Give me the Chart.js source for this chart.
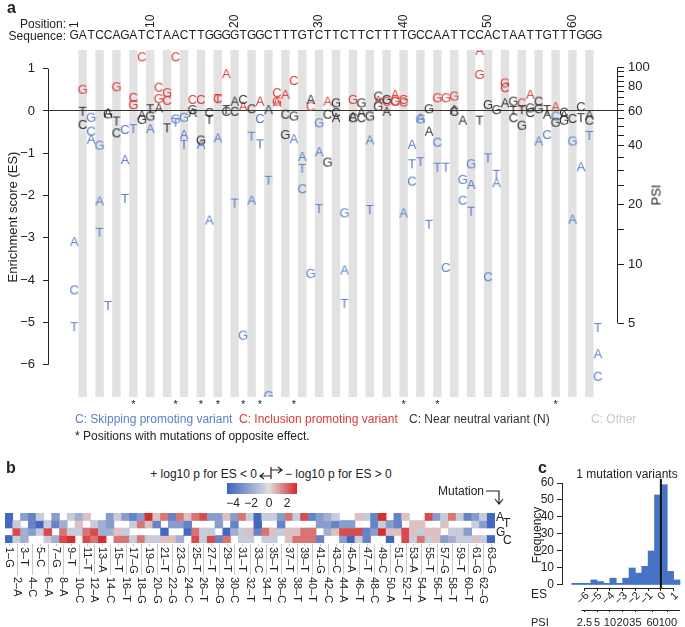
<!DOCTYPE html>
<html>
<head>
<meta charset="utf-8">
<script src="https://cdn.jsdelivr.net/npm/chart.js@4.4.1/dist/chart.umd.min.js"></script>
<style>
  body { margin: 0; width: 685px; height: 627px; position: relative; overflow: hidden; background: #fff;
         font-family: "Liberation Sans", Arial, sans-serif; color: #222; }
  canvas { position: absolute; }
  .t { position: absolute; white-space: nowrap; font-size: 12px; line-height: 1; }
  .panel { font-weight: bold; font-size: 16px; }
  .rot { transform: translate(-50%, -50%) rotate(-90deg); }
</style>
</head>
<body>
<canvas id="chartA" width="685" height="460" style="left:0;top:0;width:685px;height:460px"></canvas>
<canvas id="chartB" width="520" height="122" style="left:0;top:505px;width:520px;height:122px"></canvas>
<canvas id="chartC" width="185" height="157" style="left:500px;top:470px;width:185px;height:157px"></canvas>

<!-- panel a text -->
<div class="t panel" style="left:7px;top:0px">a</div>
<div class="t" style="right:619px;top:18px">Position:</div>
<div class="t" style="right:619px;top:30px">Sequence:</div>
<div class="t rot" style="left:12px;top:217px;font-size:13px">Enrichment score (ES)</div>
<div class="t rot" style="left:656px;top:195px;font-size:13px">PSI</div>
<div class="t" style="left:75px;top:413px;color:#5b7fc9">C: Skipping promoting variant</div>
<div class="t" style="left:239px;top:413px;color:#d93a3a">C: Inclusion promoting variant</div>
<div class="t" style="left:409px;top:413px;color:#333">C: Near neutral variant (N)</div>
<div class="t" style="left:591px;top:413px;color:#c8c8c8">C: Other</div>
<div class="t" style="left:75px;top:430px">* Positions with mutations of opposite effect.</div>

<!-- panel b text -->
<div class="t panel" style="left:6px;top:460px">b</div>
<div class="t" style="right:428px;top:468px">+ log10 p for ES &lt; 0</div>
<svg style="position:absolute;left:258px;top:466px" width="26" height="14">
  <path d="M13 1 V13 M13 4 H24 M20 1 L24 4 L20 7 M13 10 H2 M6 7 L2 10 L6 13" stroke="#222" stroke-width="1.2" fill="none"/>
</svg>
<div class="t" style="left:285px;top:468px">&minus; log10 p for ES &gt; 0</div>
<div style="position:absolute;left:227px;top:483px;width:70px;height:11px;background:linear-gradient(to right, rgb(59,100,190) 0%, rgb(222,222,222) 60%, rgb(214,39,40) 100%)"></div>
<div class="t" style="left:233px;top:497px;transform:translateX(-50%)">&minus;4</div>
<div class="t" style="left:251px;top:497px;transform:translateX(-50%)">&minus;2</div>
<div class="t" style="left:269px;top:497px;transform:translateX(-50%)">0</div>
<div class="t" style="left:287px;top:497px;transform:translateX(-50%)">2</div>
<div class="t" style="left:438px;top:485px">Mutation</div>
<svg style="position:absolute;left:484px;top:484px" width="22" height="22">
  <path d="M2 7 H15 V19 M11 15 L15 20 L19 15" stroke="#222" stroke-width="1.2" fill="none"/>
</svg>
<div class="t" style="left:496px;top:511px">A</div>
<div class="t" style="left:503px;top:517px">T</div>
<div class="t" style="left:496px;top:526px">G</div>
<div class="t" style="left:503px;top:534px">C</div>

<!-- panel c text -->
<div class="t panel" style="left:538px;top:460px">c</div>
<div class="t" style="left:627px;top:468px;transform:translateX(-50%)">1 mutation variants</div>
<div class="t rot" style="left:537px;top:535px;font-size:12px">Frequency</div>
<div class="t" style="left:531px;top:588px">ES</div>
<div class="t" style="left:531px;top:617px;font-size:11px">PSI</div>

<script>
// ---------- panel a data ----------
const sequence = 'GATCCAGATCTAACTTGGGGTGGCTTTGTCTTCTTCTTTTGCCAATTCCACTAATTGTTTGGG';

// enrichment score of each substitution (null = wild-type base at that position)
const esA = [-3.10, null, -0.68, -2.14, -0.06, null, -1.16, null, -0.11, -0.43,
  0.06, null, null, -0.57, -0.05, -0.80, -2.59, -0.65, 0.87, 0.22,
  0.10, -2.12, 0.22, 0.02, 0.20, 0.38, -0.67, -1.09, 0.26, -0.98,
  0.22, -0.17, -3.77, -0.15, -0.05, -0.70, 0.24, -0.02, 0.38, -2.42,
  -0.80, -0.18, -0.49, null, null, 0.02, -0.23, -1.75, 1.42, null,
  -1.71, 0.18, null, null, 0.38, -0.72, -0.09, 0.09, -0.10, -2.57,
  -1.33, -0.11, -5.75];
const esC = [-4.24, -0.33, -0.49, null, null, -0.53, -0.45, 0.31, 1.27, null,
  0.55, 0.24, 1.27, null, 0.26, 0.26, -0.05, 0.28, -0.02, -0.02,
  0.26, 0.04, -0.19, null, 0.42, -0.09, 0.71, -1.85, 0.10, null,
  -0.09, -0.05, null, -0.17, -0.17, null, 0.34, 0.22, 0.22, 0.20,
  -1.67, null, null, -0.75, -3.71, -0.02, -2.12, null, null, -3.93,
  null, 0.54, -0.17, 0.18, -0.05, 0.22, -0.57, -0.13, -0.04, -0.19,
  0.09, -0.23, -6.28];
const esG = [null, 0.50, -0.16, -0.82, -0.08, 0.56, null, 0.14, -0.21, -0.13,
  0.28, 0.42, -0.20, -0.16, 0.02, -0.70, null, null, null, null,
  -5.31, null, null, -6.74, 0.22, -0.57, -0.13, null, -3.85, -0.29,
  -1.22, 0.18, -2.42, 0.26, 0.18, -0.13, 0.10, 0.26, 0.22, 0.26,
  null, -0.20, 0.04, 0.30, 0.30, 0.34, -1.63, -1.26, 0.85, 0.14,
  0.02, 0.65, 0.22, -0.35, 0.06, 0.04, null, -0.28, -0.23, -0.72,
  null, null, null];
const esT = [-5.11, -0.02, null, -2.88, -4.61, -0.25, -2.08, -0.43, null, 0.04,
  null, -0.41, -0.28, -0.80, null, null, -0.21, 0.28, 0.02, -2.19,
  null, -0.61, -0.79, -1.65, null, null, null, -1.37, null, -2.32,
  null, null, -4.56, null, null, -2.34, null, null, null, null,
  -1.26, -1.21, -2.69, -1.34, -1.34, null, null, -2.38, -0.23, -1.12,
  -1.51, null, 0.00, 0.02, null, null, 0.02, null, null, null,
  -0.17, -0.59, -5.13];

// effect class: s = skipping promoting, i = inclusion promoting, n = near neutral, - = wild type
const effA = 's-ssn-s-ns' + 'n--snsssin' + 'isiniissns' + 'insnnsinis' + 'ssn--nnsi-' + 'sn--isnins' + 'sns';
const effC = 'sns--nsii-' + 'iii-iininn' + 'nns-inisi-' + 'nn-nn-niii' + 's--ssns--s' + '-ininnssnn' + 'nns';
const effG = '-issni-inn' + 'iissnn----' + 's--sinn-ss' + 'nnsinnnnii' + '-sniiissin' + 'ninnnn-nns' + '---';
const effT = 'sn-ssnss-n' + '-nss--nins' + '-sss---s-s' + '--s--s----' + 'sssss--sns' + 's-nn--n---' + 'nss';

const oppositePositions = [8, 13, 16, 18, 21, 23, 27, 40, 44, 58];
const rulerTicks = [1, 10, 20, 30, 40, 50, 60];
const esTicks = [-6, -5, -4, -3, -2, -1, 0, 1];
const psiTicks = [5, 10, 15, 20, 25, 30, 35, 40, 45, 50, 55, 60, 65, 70, 75, 80, 85, 90, 95, 100];
const psiLabels = [5, 10, 20, 40, 60, 80, 100];

// ---------- panel b data (signed -log10 p, rows A/T/G/C; null = wild type) ----------
const heatA = [-4.5, null, -2.5, -3.5, -0.7, null, -2.5, null, -0.7, -1.8,
  0.5, null, null, -2.5, -0.7, -2.5, -3.5, -2.5, 3, 0.5,
  1.8, -3.5, 1.8, 0.5, 1.8, 2.5, -2.5, -2.5, 0.5, -2.5,
  1.8, -0.7, -4.5, -0.7, -0.7, -2.5, 1.8, -0.7, 2.5, -3.5,
  -2.5, -1.8, -0.7, null, null, 0.5, -0.7, -3.5, 3, null,
  -3.5, 0.5, null, null, 2.5, -2.5, -0.7, 1.8, -0.7, -3.5,
  -2.5, -0.7, -4.5];
const heatT = [-4.5, -0.7, null, -3.5, -4.5, -0.7, -3.5, -1.8, null, 0.5,
  null, -0.7, -1.8, -2.5, null, null, -0.7, 1.8, 0.5, -3.5,
  null, -2.5, -2.5, -3.5, null, null, null, -2.5, null, -3.5,
  null, null, -4.5, null, null, -3.5, null, null, null, null,
  -2.5, -2.5, -3.5, -2.5, -2.5, null, null, -3.5, -0.7, -2.5,
  -3.5, null, 0.5, 0.5, null, null, 0.5, null, null, null,
  -0.7, -2.5, -4.5];
const heatG = [null, 2.5, -1.8, -2.5, -0.7, 2.5, null, 1.8, -0.7, -0.7,
  1.8, 2.5, -1.8, -1.8, 0.5, -0.7, null, null, null, null,
  -4.5, null, null, -4.5, 1.8, -0.7, -0.7, null, -4.5, -1.8,
  -0.7, 0.5, -3.5, 1.8, 0.5, -0.7, 0.5, 0.5, 1.8, 1.8,
  null, -1.8, 0.5, 2.5, 2.5, 2.5, -3.5, -2.5, 3, 0.5,
  0.5, 2.5, 0.5, -0.7, 0.5, 0.5, null, -0.7, -0.7, -2.5,
  null, null, null];
const heatC = [-4.5, -0.7, -1.8, null, null, -0.7, -1.8, 2.5, 3, null,
  2.5, 1.8, 3, null, 1.8, 1.8, -0.7, 1.8, -0.7, -0.7,
  0.5, 0.5, -1.8, null, 2.5, -0.7, 2.5, -3.5, 1.8, null,
  -0.7, -0.7, null, -0.7, -0.7, null, 0.5, 1.8, 1.8, 1.8,
  -3.5, null, null, -2.5, -4.5, -0.7, -3.5, null, null, -4.5,
  null, 2.5, -0.7, 1.8, -0.7, 0.5, -2.5, -1.8, -0.7, -0.7,
  0.5, -0.7, -4.5];

// ---------- panel c data ----------
const binEdges = [-7, -6.5, -6, -5.5, -5, -4.5, -4, -3.5, -3, -2.5, -2, -1.5, -1, -0.5, 0, 0.5, 1, 1.5];
const binCounts = [1, 1, 1, 3, 2, 1, 4, 1, 4, 10, 7, 11, 20, 53, 59, 8, 3];
const histTicks = [-6, -5, -4, -3, -2, -1, 0, 1];
const histPsiLabels = ['2.5', '5', '10', '20', '35', '60', '100'];
const histPsiAt = [-6, -5, -4, -3, -2, -0.65, 0.55];

// ---------- helpers ----------
const FONT = '"Liberation Sans", Arial, sans-serif';
const BLUE = '#5b7fc9', RED = '#d93a3a', DARK = '#333333';
const minus = v => (v < 0 ? '\u2212' + Math.abs(v) : String(v));
const psiAt = es => 60 * Math.pow(2, es / 1.4);

function letterImage(ch, color) {
  const c = document.createElement('canvas');
  c.width = 12; c.height = 14;
  const g = c.getContext('2d');
  g.font = '13px ' + FONT;
  g.fillStyle = color;
  g.textAlign = 'center';
  g.textBaseline = 'middle';
  g.fillText(ch, 6, 7.5);
  return c;
}

function heatColor(v) {
  if (v === null) return 'rgba(0,0,0,0)';
  const mid = [222, 222, 222], lo = [59, 100, 190], hi = [214, 39, 40];
  const end = v < 0 ? lo : hi;
  const t = v < 0 ? Math.min(1, -v / 4.7) : Math.min(1, v / 3.1);
  const c = mid.map((m, k) => Math.round(m + (end[k] - m) * t));
  return `rgb(${c[0]},${c[1]},${c[2]})`;
}

// ---------- panel a ----------
const groups = {
  n: { color: DARK, data: [], styles: [] },
  s: { color: BLUE, data: [], styles: [] },
  i: { color: RED, data: [], styles: [] }
};
const byBase = { A: [esA, effA], C: [esC, effC], G: [esG, effG], T: [esT, effT] };
Object.keys(byBase).forEach(base => {
  const [vals, eff] = byBase[base];
  vals.forEach((v, i) => {
    if (v === null) return;
    const g = groups[eff[i]];
    g.data.push({ x: i + 1, y: v });
    g.styles.push(letterImage(base, g.color));
  });
});

const stripes = {
  id: 'stripes',
  beforeDraw(chart) {
    const { ctx, chartArea, scales: { x } } = chart;
    ctx.save();
    ctx.fillStyle = '#e2e2e2';
    for (let p = 2; p <= sequence.length; p += 2) {
      const l = x.getPixelForValue(p - 0.5), r = x.getPixelForValue(p + 0.5);
      ctx.fillRect(l, chartArea.top, r - l, chartArea.bottom - chartArea.top);
    }
    ctx.restore();
  }
};

const decorA = {
  id: 'decorA',
  afterDraw(chart) {
    const { ctx, chartArea, scales: { x, y, y2 } } = chart;
    ctx.save();
    ctx.strokeStyle = '#222';
    ctx.lineWidth = 1;
    ctx.beginPath();
    ctx.moveTo(chartArea.left + 0.5, y.getPixelForValue(1));
    ctx.lineTo(chartArea.left + 0.5, y.getPixelForValue(-6));
    ctx.moveTo(chartArea.right - 0.5, y2.getPixelForValue(100));
    ctx.lineTo(chartArea.right - 0.5, y2.getPixelForValue(5));
    ctx.stroke();

    ctx.fillStyle = '#222';
    ctx.font = '12px ' + FONT;
    ctx.textBaseline = 'middle';
    ctx.textAlign = 'center';
    sequence.split('').forEach((b, i) => ctx.fillText(b, x.getPixelForValue(i + 1), 36));
    rulerTicks.forEach(p => {
      ctx.save();
      ctx.translate(x.getPixelForValue(p), 28);
      ctx.rotate(-Math.PI / 2);
      ctx.textAlign = 'left';
      ctx.fillText(String(p), 0, 0);
      ctx.restore();
    });
    ctx.font = '11px ' + FONT;
    oppositePositions.forEach(p => ctx.fillText('*', x.getPixelForValue(p), chartArea.bottom + 8));
    ctx.restore();
  }
};

new Chart(document.getElementById('chartA'), {
  type: 'scatter',
  data: {
    datasets: Object.keys(groups).map(k => ({
      data: groups[k].data,
      pointStyle: groups[k].styles,
      pointRadius: 6
    }))
  },
  options: {
    responsive: false,
    animation: false,
    events: [],
    layout: { autoPadding: false, padding: { top: 50, bottom: 63, left: 0, right: 0 } },
    plugins: { legend: { display: false }, tooltip: { enabled: false } },
    scales: {
      x: { type: 'linear', min: -2.105, max: 65.395, display: false },
      y: {
        type: 'linear', position: 'left', min: -6.76, max: 1.44,
        afterFit: s => { s.width = 48; },
        afterBuildTicks: s => { s.ticks = esTicks.map(v => ({ value: v })); },
        border: { display: false },
        grid: {
          color: c => (c.tick && c.tick.value === 0 ? '#333' : 'rgba(0,0,0,0)'),
          tickColor: '#222', tickLength: 5
        },
        ticks: { padding: 8, color: '#222', font: { size: 13, family: FONT }, callback: v => minus(v) }
      },
      y2: {
        type: 'logarithmic', position: 'right', min: psiAt(-6.76), max: psiAt(1.44),
        afterFit: s => { s.width = 67; },
        afterBuildTicks: s => { s.ticks = psiTicks.map(v => ({ value: v })); },
        border: { display: false },
        grid: { drawOnChartArea: false, tickColor: '#222', tickLength: 6 },
        ticks: { padding: 4, autoSkip: false, color: '#222', font: { size: 13, family: FONT },
                 callback: v => (psiLabels.includes(v) ? String(v) : '') }
      }
    }
  },
  plugins: [stripes, decorA]
});

// ---------- panel b ----------
const heatRows = [
  { vals: heatA, r: 3 },
  { vals: heatT, r: 2 },
  { vals: heatG, r: 1 },
  { vals: heatC, r: 0 }
];

const colLabels = {
  id: 'colLabels',
  afterDraw(chart) {
    const { ctx, chartArea, scales: { x } } = chart;
    ctx.save();
    ctx.font = '11px ' + FONT;
    ctx.fillStyle = '#222';
    ctx.textBaseline = 'middle';
    ctx.textAlign = 'left';
    chart.data.labels.forEach((lab, i) => {
      const px = x.getPixelForValue(i);
      const upper = i % 2 === 0;
      const y0 = chartArea.bottom + (upper ? 4 : 34);
      ctx.strokeStyle = '#c9c9c9';
      ctx.lineWidth = 1;
      ctx.beginPath();
      ctx.moveTo(Math.round(px) + 0.5, chartArea.bottom + 1);
      ctx.lineTo(Math.round(px) + 0.5, upper ? chartArea.bottom + 3 : y0 - 2);
      ctx.stroke();
      ctx.save();
      ctx.translate(px, y0);
      ctx.rotate(Math.PI / 2);
      ctx.fillText(lab, 0, 0);
      ctx.restore();
    });
    ctx.restore();
  }
};

new Chart(document.getElementById('chartB'), {
  type: 'bar',
  data: {
    labels: sequence.split('').map((b, i) => `${i + 1}\u2013${b}`),
    datasets: heatRows.map(row => ({
      data: row.vals.map(v => (v === null ? null : [row.r, row.r + 1])),
      backgroundColor: row.vals.map(heatColor),
      borderWidth: 0,
      grouped: false,
      barPercentage: 1,
      categoryPercentage: 1
    }))
  },
  options: {
    responsive: false,
    animation: false,
    events: [],
    layout: { autoPadding: false, padding: { top: 8, bottom: 84, left: 5, right: 25 } },
    plugins: { legend: { display: false }, tooltip: { enabled: false } },
    scales: {
      x: { display: false },
      y: { display: false, min: 0, max: 4 }
    }
  },
  plugins: [colLabels]
});

// ---------- panel c ----------
const decorC = {
  id: 'decorC',
  afterDraw(chart) {
    const { ctx, chartArea, scales: { x, x2, y } } = chart;
    ctx.save();
    ctx.strokeStyle = '#222';
    ctx.lineWidth = 1;
    ctx.beginPath();
    ctx.moveTo(chartArea.left + 0.5, y.getPixelForValue(0));
    ctx.lineTo(chartArea.left + 0.5, y.getPixelForValue(60));
    ctx.moveTo(x.getPixelForValue(histTicks[0]), x.top + 0.5);
    ctx.lineTo(x.getPixelForValue(histTicks[histTicks.length - 1]), x.top + 0.5);
    ctx.moveTo(x.getPixelForValue(histPsiAt[0]) - 3, x2.top + 0.5);
    ctx.lineTo(chartArea.right - 1, x2.top + 0.5);
    ctx.stroke();
    ctx.strokeStyle = '#111';
    ctx.lineWidth = 2;
    ctx.beginPath();
    ctx.moveTo(x.getPixelForValue(0), chartArea.top - 4);
    ctx.lineTo(x.getPixelForValue(0), chartArea.bottom);
    ctx.stroke();
    // rotated ES tick labels
    ctx.fillStyle = '#222';
    ctx.font = '11px ' + FONT;
    ctx.textAlign = 'right';
    ctx.textBaseline = 'middle';
    histTicks.forEach(v => {
      ctx.save();
      ctx.translate(x.getPixelForValue(v) + 3, x.top + 6);
      ctx.rotate(-Math.PI / 4);
      ctx.fillText(minus(v), 0, 0);
      ctx.restore();
    });
    ctx.restore();
  }
};

new Chart(document.getElementById('chartC'), {
  type: 'bar',
  data: {
    datasets: [{
      data: binCounts.map((c, i) => ({ x: (binEdges[i] + binEdges[i + 1]) / 2, y: c })),
      backgroundColor: '#4673c4',
      borderWidth: 0,
      barPercentage: 1,
      categoryPercentage: 1
    }]
  },
  options: {
    responsive: false,
    animation: false,
    events: [],
    layout: { autoPadding: false, padding: { top: 13, right: 4, bottom: 0, left: 0 } },
    plugins: { legend: { display: false }, tooltip: { enabled: false } },
    scales: {
      x: {
        type: 'linear', position: 'bottom', min: -7.76, max: 1.58, offset: false,
        afterFit: s => { s.height = 22; },
        afterBuildTicks: s => { s.ticks = histTicks.map(v => ({ value: v })); },
        border: { display: false },
        grid: { offset: false, drawOnChartArea: false, tickColor: '#222', tickLength: 3 },
        ticks: { display: false }
      },
      x2: {
        type: 'linear', position: 'bottom', min: -7.76, max: 1.58, offset: false,
        afterFit: s => { s.height = 17; },
        afterBuildTicks: s => { s.ticks = histPsiAt.map(v => ({ value: v })); },
        border: { display: false },
        grid: { offset: false, drawOnChartArea: false, tickColor: '#222', tickLength: 2 },
        ticks: { minRotation: 0, maxRotation: 0, padding: 4, autoSkip: false, color: '#222',
                 font: { size: 11, family: FONT },
                 callback: (v, i) => histPsiLabels[i] }
      },
      y: {
        type: 'linear', min: -1.765, max: 60,
        afterFit: s => { s.width = 62; },
        afterBuildTicks: s => { s.ticks = [0, 10, 20, 30, 40, 50, 60].map(v => ({ value: v })); },
        border: { display: false },
        grid: { drawOnChartArea: false, tickColor: '#222', tickLength: 5 },
        ticks: { padding: 3, color: '#222', font: { size: 12, family: FONT } }
      }
    }
  },
  plugins: [decorC]
});
</script>
</body>
</html>
